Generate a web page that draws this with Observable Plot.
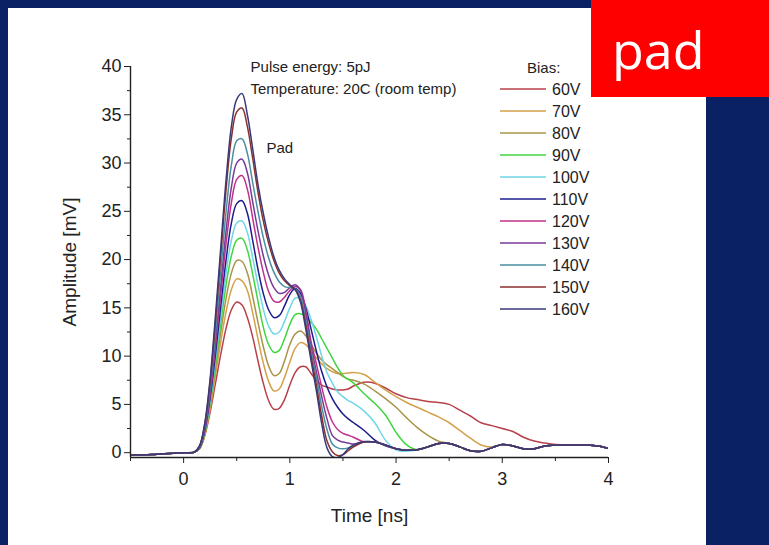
<!DOCTYPE html>
<html>
<head>
<meta charset="utf-8">
<script src="https://cdn.jsdelivr.net/npm/d3@7"></script>
<script src="https://cdn.jsdelivr.net/npm/@observablehq/plot@0.6"></script>
<style>
  html, body { margin: 0; padding: 0; }
  body { width: 769px; height: 545px; background: #0a2163; position: relative; overflow: hidden; font-family: "Liberation Sans", Arial, sans-serif; }
  #panel { position: absolute; left: 8px; top: 8px; width: 698px; height: 537px; background: #fff; }
  #chart { position: absolute; left: 8px; top: 8px; }
  #redbox { position: absolute; left: 591px; top: 0; width: 178px; height: 97px; background: #ff0000; color: #fff;
            font-family: "Open Sans", "Noto Sans", sans-serif; font-size: 52px; line-height: 97px; box-sizing: border-box; padding-left: 21px; z-index: 5; }
  #legend { position: absolute; left: 0; top: 0; z-index: 3; }
</style>
</head>
<body>
<div id="panel"></div>
<div id="chart"></div>
<div id="legend"></div>
<div id="redbox">pad</div>
<script>
// ---- Data ----
const times = [-0.5,-0.3,-0.1,0,0.1,
  0.15,0.2,0.25,0.3,0.35,0.4,0.45,0.5,0.55,
  0.6,0.65,0.7,0.75,0.8,0.85,0.9,0.95,
  1.0,1.05,1.1,1.15,1.2,1.25,1.3,1.35,1.4,1.45,1.5,1.55,
  1.6,1.7,1.8,1.9,2.0,2.1,2.2,2.3,2.4,2.5,
  2.6,2.7,2.8,2.9,3.0,3.1,3.2,3.3,3.4,3.5,
  3.6,3.7,3.8,3.9,4.0];

const biasLabels = ["60V","70V","80V","90V","100V","110V","120V","130V","140V","150V","160V"];
const biasColors = ["#b8404a","#d4a04a","#a89448","#3fd63f","#6fd6e6","#1c1c8c","#c0308c","#7a3a98","#4a8ea0","#8c2f2f","#3a3a78"];

const v60 = [-0.25,-0.2,-0.05,0,0.05,
  0.4,1.8,4.2,7.2,10.2,12.9,14.8,15.6,15.3,
  14.0,12.0,9.5,7.2,5.4,4.5,4.6,5.5,
  7.0,8.3,8.9,8.9,8.2,7.5,7.0,6.8,6.6,6.5,6.5,6.6,
  6.9,7.3,7.2,6.7,6.1,5.7,5.5,5.3,5.2,5.0,
  4.4,3.8,3.1,2.8,2.5,2.2,1.6,1.2,1.0,0.85,
  0.8,0.8,0.8,0.7,0.45];
const v70 = [-0.25,-0.2,-0.05,0,0.05,
  0.4,1.9,4.6,8.0,11.5,14.6,16.9,18.0,17.8,
  16.8,14.5,11.8,9.3,7.4,6.4,6.6,7.8,
  9.4,10.8,11.4,11.2,10.5,9.8,9.2,8.7,8.4,8.2,8.2,8.25,
  8.3,8.1,7.3,6.5,5.8,5.2,4.7,4.2,3.7,3.1,
  2.3,1.5,0.8,0.6,0.85,0.7,0.4,0.4,0.7,0.8,
  0.8,0.8,0.8,0.7,0.45];
const v80 = [-0.25,-0.2,-0.05,0,0.05,
  0.4,2.0,5.0,8.7,12.5,16.0,18.6,19.9,19.8,
  18.6,16.2,13.5,11.0,9.0,8.0,8.2,9.5,
  11.2,12.3,12.6,12.1,11.2,10.3,9.6,9.1,8.7,8.3,7.9,7.6,
  7.5,7.1,6.4,5.6,4.7,3.6,2.6,1.8,1.2,0.95,
  0.6,0.2,0.15,0.5,0.85,0.7,0.4,0.4,0.7,0.8,
  0.8,0.8,0.8,0.7,0.45];
const v90 = [-0.25,-0.2,-0.05,0,0.05,
  0.45,2.1,5.2,9.2,13.4,17.4,20.4,22.0,22.2,
  21.0,18.5,15.7,13.0,11.2,10.4,10.6,11.8,
  13.3,14.3,14.4,14.1,13.5,12.8,11.8,10.8,9.8,8.8,8.0,7.6,
  7.2,6.1,5.1,3.9,2.1,0.8,0.3,0.6,0.95,0.95,
  0.6,0.2,0.15,0.5,0.85,0.7,0.4,0.4,0.7,0.8,
  0.8,0.8,0.8,0.7,0.45];
const v100 = [-0.25,-0.2,-0.05,0,0.05,
  0.5,2.2,5.4,9.7,14.2,18.6,22.0,23.8,24.0,
  22.8,20.2,17.4,14.9,13.1,12.3,12.5,13.6,
  15.0,16.0,16.0,15.2,13.8,12.0,10.0,8.3,7.2,6.3,5.8,5.4,
  5.1,4.3,3.1,1.3,0.3,0.15,0.3,0.6,0.95,0.95,
  0.6,0.2,0.15,0.5,0.85,0.7,0.4,0.4,0.7,0.8,
  0.8,0.8,0.8,0.7,0.45];
const v110 = [-0.25,-0.2,-0.05,0,0.05,
  0.5,2.3,5.7,10.2,15.2,20.0,23.8,25.8,26.1,
  24.8,22.0,19.0,16.5,14.8,14.0,14.2,15.2,
  16.4,17.0,16.5,15.0,12.8,10.5,8.4,6.8,5.6,4.7,4.0,3.5,
  3.1,2.3,1.3,0.7,0.4,0.25,0.3,0.6,0.95,0.95,
  0.6,0.2,0.15,0.5,0.85,0.7,0.4,0.4,0.7,0.8,
  0.8,0.8,0.8,0.7,0.45];
const v120 = [-0.25,-0.2,-0.05,0,0.05,
  0.55,2.5,6.1,11.0,16.4,21.7,25.9,28.3,28.7,
  27.3,24.3,21.3,18.7,16.7,15.7,15.6,16.1,
  16.8,17.2,16.9,14.8,11.5,9.2,6.8,4.7,3.2,2.4,2.0,1.8,
  1.6,1.1,1.1,0.8,0.4,0.25,0.3,0.6,0.95,0.95,
  0.6,0.2,0.15,0.5,0.85,0.7,0.4,0.4,0.7,0.8,
  0.8,0.8,0.8,0.7,0.45];
const v130 = [-0.25,-0.2,-0.05,0,0.05,
  0.6,2.6,6.4,11.6,17.4,23.0,27.5,30.0,30.4,
  29.0,26.0,23.0,20.4,18.4,17.1,16.5,16.6,
  17.1,17.4,16.8,14.3,11.0,8.4,5.8,3.5,1.8,1.3,1.1,1.0,
  0.9,1.1,1.1,0.8,0.4,0.25,0.3,0.6,0.95,0.95,
  0.6,0.2,0.15,0.5,0.85,0.7,0.4,0.4,0.7,0.8,
  0.8,0.8,0.8,0.7,0.45];
const v140 = [-0.25,-0.2,-0.05,0,0.05,
  0.6,2.8,6.9,12.5,18.8,25.0,29.8,32.3,32.5,
  31.0,28.0,25.0,22.3,20.2,18.7,17.7,17.2,
  17.1,17.0,16.2,13.7,10.5,7.8,4.8,2.4,0.9,0.5,0.4,0.5,
  0.7,1.1,1.1,0.8,0.4,0.25,0.3,0.6,0.95,0.95,
  0.6,0.2,0.15,0.5,0.85,0.7,0.4,0.4,0.7,0.8,
  0.8,0.8,0.8,0.7,0.45];
const v150 = [-0.25,-0.2,-0.05,0,0.05,
  0.7,3.0,7.4,13.6,20.5,27.3,32.6,35.3,35.7,
  33.8,30.5,27.0,24.0,21.7,19.9,18.6,17.8,
  17.3,16.9,15.8,13.2,10.0,7.0,3.8,1.2,0.1,-0.3,-0.2,0.2,
  0.6,1.1,1.1,0.8,0.4,0.25,0.3,0.6,0.95,0.95,
  0.6,0.2,0.15,0.5,0.85,0.7,0.4,0.4,0.7,0.8,
  0.8,0.8,0.8,0.7,0.45];
const v160 = [-0.25,-0.2,-0.05,0,0.05,
  0.7,3.1,7.7,14.2,21.3,28.3,33.8,36.6,37.2,
  35.0,31.5,27.8,24.8,22.3,20.3,18.9,18.0,
  17.4,16.9,15.6,12.8,9.5,6.4,3.0,0.5,-0.4,-0.5,-0.2,0.4,
  0.8,1.15,1.1,0.8,0.4,0.25,0.3,0.6,0.95,0.95,
  0.6,0.2,0.15,0.5,0.85,0.7,0.4,0.4,0.7,0.8,
  0.8,0.8,0.8,0.7,0.45];

const xMajorTicks = [0,1,2,3,4];
const xMinorTicks = [-0.5,0.5,1.5,2.5,3.5];
const yMajorTicks = [0,5,10,15,20,25,30,35,40];
const yMinorTicks = [2.5,7.5,12.5,17.5,22.5,27.5,32.5,37.5];

const notes = [
  {t: 0.63, v: 39.9, text: "Pulse energy: 5pJ"},
  {t: 0.63, v: 37.6, text: "Temperature: 20C (room temp)"},
  {t: 0.78, v: 31.5, text: "Pad"}
];

// ---- Build table ----
const seriesValues = [v60,v70,v80,v90,v100,v110,v120,v130,v140,v150,v160];
const rows = [];
seriesValues.forEach((vals, i) => {
  vals.forEach((v, j) => rows.push({bias: biasLabels[i], t: times[j], v}));
});

const FONT = "'Liberation Sans', Arial, sans-serif";

const chart = Plot.plot({
  width: 698,
  height: 537,
  marginLeft: 122,
  marginRight: 98,
  marginTop: 58,
  marginBottom: 88,
  style: {fontFamily: FONT, background: "white", overflow: "visible"},
  x: {domain: [-0.5, 4]},
  y: {domain: [-0.5, 40]},
  color: {domain: biasLabels, range: biasColors},
  marks: [
    Plot.line(rows, {x: "t", y: "v", z: "bias", stroke: "bias", strokeWidth: 1.5, curve: "catmull-rom", clip: true}),
    Plot.axisX({ticks: xMajorTicks, tickSize: 6, tickPadding: 9, fontSize: 18, color: "#222", tickFormat: d => String(d),
      label: "Time [ns]", labelAnchor: "center", labelArrow: "none", labelOffset: 64}),
    Plot.axisX({ticks: xMinorTicks, tickSize: 4, tickFormat: () => "", label: null, color: "#222"}),
    Plot.axisY({ticks: yMajorTicks, tickSize: 6, tickPadding: 3, fontSize: 18, color: "#222", tickFormat: d => String(d),
      label: "Amplitude [mV]", labelAnchor: "center", labelArrow: "none", labelOffset: 68}),
    Plot.axisY({ticks: yMinorTicks, tickSize: 3, tickFormat: () => "", label: null, color: "#222"}),
    Plot.ruleX([-0.5], {stroke: "#222", strokeWidth: 1.4}),
    Plot.ruleY([-0.5], {stroke: "#222", strokeWidth: 1.4}),
    Plot.text(notes, {x: "t", y: "v", text: "text", textAnchor: "start", fontSize: 15, fill: "#222"})
  ]
});
document.getElementById("chart").appendChild(chart);

// label font sizes
chart.querySelectorAll("g[aria-label='x-axis label'] text, g[aria-label='y-axis label'] text").forEach(t => {
  t.setAttribute("font-size", "19");
});

// ---- Legend (HTML overlay SVG built from the series arrays) ----
const ns = "http://www.w3.org/2000/svg";
const lg = document.createElementNS(ns, "svg");
lg.setAttribute("width", 769); lg.setAttribute("height", 545);
lg.style.fontFamily = FONT;
const title = document.createElementNS(ns, "text");
title.setAttribute("x", 527); title.setAttribute("y", 68); title.setAttribute("dy", "0.35em");
title.setAttribute("font-size", "15"); title.setAttribute("fill", "#222");
title.textContent = "Bias:";
lg.appendChild(title);
biasLabels.forEach((b, i) => {
  const cy = 89 + 22 * i;
  const ln = document.createElementNS(ns, "line");
  ln.setAttribute("x1", 500); ln.setAttribute("x2", 546); ln.setAttribute("y1", cy); ln.setAttribute("y2", cy);
  ln.setAttribute("stroke", biasColors[i]); ln.setAttribute("stroke-width", 1.6);
  lg.appendChild(ln);
  const tx = document.createElementNS(ns, "text");
  tx.setAttribute("x", 552); tx.setAttribute("y", cy); tx.setAttribute("dy", "0.35em");
  tx.setAttribute("font-size", "16"); tx.setAttribute("fill", "#222");
  tx.textContent = b;
  lg.appendChild(tx);
});
document.getElementById("legend").appendChild(lg);
</script>
</body>
</html>
